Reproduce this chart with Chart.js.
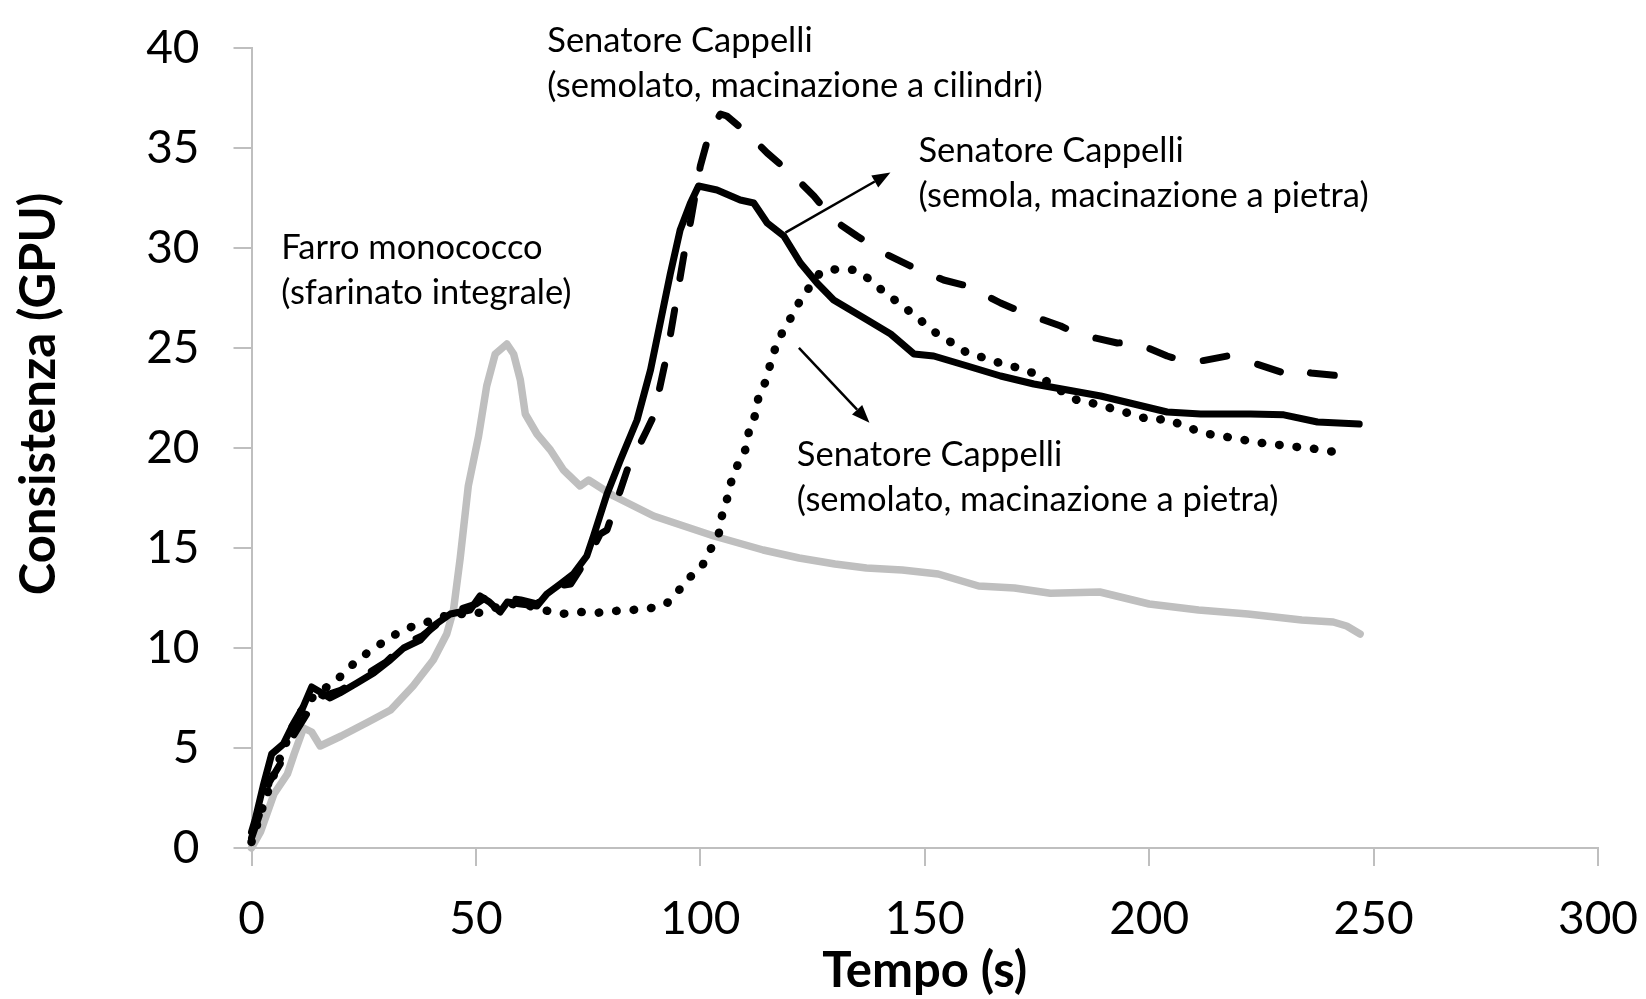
<!DOCTYPE html>
<html><head><meta charset="utf-8">
<script src="https://cdn.jsdelivr.net/npm/chart.js@4.4.1/dist/chart.umd.min.js"></script>
<style>html,body{margin:0;padding:0;background:#fff;}#wrap{position:relative;width:1646px;height:999px;}</style>
</head><body><div id="wrap"><canvas id="c" width="1646" height="999"></canvas></div>
<script>
// ---- data (time in s, consistency in GPU) ----
const xTicks = [0, 50, 100, 150, 200, 250, 300];
const yTicks = [0, 5, 10, 15, 20, 25, 30, 35, 40];

const farroT = [0,2,5,8,9.5,11.6,13.4,15.3,20,26,31,36,40.5,43.5,45,46.5,48.3,50.6,52.4,54.3,56.9,58.4,59.9,61,63.6,66.6,69.5,73.2,75.1,80.7,89.6,103,114,122,130,137,145,153,162,170,178,189,200,211,222,234,241,244,247];
const farroV = [0,0.8,2.7,3.7,4.7,6.0,5.8,5.1,5.6,6.3,6.9,8.1,9.4,10.7,11.9,14.5,18.1,20.6,23.1,24.7,25.2,24.7,23.4,21.7,20.7,19.9,18.9,18.1,18.4,17.6,16.6,15.6,14.9,14.5,14.2,14.0,13.9,13.7,13.1,13.0,12.74,12.8,12.2,11.9,11.7,11.4,11.3,11.1,10.7];

const semolaT = [0,0.8,2.6,4.5,7.1,9.3,11.5,13.4,15.3,17.5,19.7,23.5,27.2,30.9,33.9,37.6,40.5,44.3,48.7,50.9,53,55.4,57,60,63.6,65.8,68.8,71.7,74.7,76.2,79.2,82.2,85.9,88.9,91.1,93.3,95.5,97.8,99.6,103.7,108.9,111.9,114.9,118.6,122.3,126,129.7,137.2,142.4,147.6,152,159.5,166.9,174.3,181.8,189.2,196.6,204,211.5,222.6,230,237.5,246.8];
const semolaV = [0.8,1.4,3.1,4.7,5.2,6.2,7.05,8.05,7.8,7.5,7.75,8.25,8.75,9.4,10.0,10.4,11.1,11.7,11.9,12.6,12.3,11.8,12.3,12.2,12.1,12.7,13.2,13.7,14.6,15.6,17.7,19.4,21.4,23.9,26.3,28.7,30.9,32.25,33.1,32.9,32.4,32.25,31.25,30.6,29.25,28.25,27.4,26.4,25.7,24.7,24.6,24.1,23.6,23.2,22.9,22.6,22.2,21.8,21.7,21.7,21.66,21.3,21.2];

const cilindriT = [0,2,4,6.4,9,12.3,14,16,20,25,30,34,38,42,46,50,52,55,57,60,63.6,65,68,71.1,75.4,77.7,79.2,83.7,88.1,89.6,91.8,92.6,94.8,96.3,97.8,100,102.2,104.5,105.9,110.4,114.9,120.8,125.3,129.7,134.9,140.9,146.8,154.2,159.5,166.9,172.1,180.3,184,192.9,196.6,204,209.2,217.4,222.6,230,233,236,242.7,247.2];
const cilindriV = [0.5,1.8,3.3,4.2,5.5,6.7,7.8,7.6,7.9,8.6,9.3,10.2,10.6,11.3,11.9,12.2,12.5,12.6,12.5,12.4,12.2,12.5,13.1,13.2,14.7,15.7,15.9,18.9,20.9,21.6,23.9,24.7,27.6,29.6,31.3,34.1,35.9,36.7,36.6,35.75,34.75,33.6,32.6,31.4,30.6,29.75,29.1,28.4,28.1,27.25,26.75,26.1,25.7,25.25,25.3,24.6,24.25,24.6,24.3,23.75,24.0,23.75,23.6,23.6];

const semolatoT = [0,3,6,9,12,15,18.6,21.2,24.2,27.4,30.7,34.2,38,42,45.8,49.8,54,58,62,65.1,69,73,77,80.8,84.8,88.6,92.4,94.9,97.5,100.4,102.2,104.1,104.8,105.9,106.7,108.2,110,110.8,112.3,113,114.5,115.6,116.7,118.5,120.4,122.3,124.5,126.8,130.5,134.6,137.9,140.9,143.9,146.8,149.8,152.8,156.5,159.8,163.5,167.3,171,174.7,181.4,184.7,188.8,192.5,196.2,200.2,204,207.8,211.5,215.3,219.3,223.1,227.1,231,235.1,239.1,243.2];
const semolatoV = [0.3,2.4,4.3,6.0,7.2,7.8,8.3,8.9,9.5,10.0,10.5,10.96,11.2,11.55,11.7,11.7,12.0,12.2,12.1,11.9,11.7,11.8,11.76,11.85,11.9,11.97,12.2,12.8,13.5,14.1,14.9,15.7,16.6,17.4,18.2,19.1,19.9,20.8,21.7,22.6,23.3,24.2,25.0,25.9,26.6,27.4,28.1,28.8,28.95,28.9,28.4,27.8,27.3,26.8,26.25,25.7,25.2,24.7,24.5,24.2,24.0,23.7,22.7,22.3,22.2,21.9,21.7,21.4,21.45,21.1,20.8,20.6,20.5,20.3,20.2,20.1,20.0,19.9,19.7];

const xTitle = 'Tempo (s)';
const yTitle = 'Consistenza (GPU)';
const annotations = [
  {t: 65.9, v: 39.8, lines: ['Senatore Cappelli', '(semolato, macinazione a cilindri)']},
  {t: 148.6, v: 34.28, lines: ['Senatore Cappelli', '(semola, macinazione a pietra)']},
  {t: 6.64, v: 29.45, lines: ['Farro monococco', '(sfarinato integrale)']},
  {t: 121.5, v: 19.1, lines: ['Senatore Cappelli', '(semolato, macinazione a pietra)']}
];
const arrowList = [
  {from: [118.95, 30.77], to: [142.35, 33.77]},
  {from: [121.96, 25.01], to: [137.68, 21.26]}
];

const zip = (T, V) => T.map((t, i) => ({x: t, y: V[i]}));

const annotPlugin = {
  id: 'annot',
  afterDraw(chart) {
    const {ctx, chartArea: ca} = chart;
    const xs = chart.scales.x, ys = chart.scales.y;
    ctx.save();
    ctx.fillStyle = '#000';
    ctx.textAlign = 'left';
    ctx.textBaseline = 'alphabetic';
    ctx.font = '34.5px Lato';
    annotations.forEach(a => {
      const px = xs.getPixelForValue(a.t), py = ys.getPixelForValue(a.v);
      a.lines.forEach((s, i) => ctx.fillText(s, px, py + i * 45));
    });
    ctx.strokeStyle = '#000';
    ctx.lineWidth = 2.5;
    arrowList.forEach(ar => {
      const x1 = xs.getPixelForValue(ar.from[0]), y1 = ys.getPixelForValue(ar.from[1]);
      const x2 = xs.getPixelForValue(ar.to[0]), y2 = ys.getPixelForValue(ar.to[1]);
      const ang = Math.atan2(y2 - y1, x2 - x1);
      const hl = 18, hw = 7;
      const bx = x2 - hl * Math.cos(ang), by = y2 - hl * Math.sin(ang);
      ctx.beginPath(); ctx.moveTo(x1, y1); ctx.lineTo(bx, by); ctx.stroke();
      ctx.beginPath();
      ctx.moveTo(x2, y2);
      ctx.lineTo(bx + hw * Math.sin(ang), by - hw * Math.cos(ang));
      ctx.lineTo(bx - hw * Math.sin(ang), by + hw * Math.cos(ang));
      ctx.closePath(); ctx.fill();
    });
    ctx.font = 'bold 49px Lato';
    ctx.textAlign = 'center';
    ctx.fillText(xTitle, (ca.left + ca.right) / 2, ca.bottom + 138.6);
    ctx.save();
    ctx.translate(ca.left - 212.5, ca.top + 346);
    ctx.rotate(-Math.PI / 2);
    ctx.textBaseline = 'middle';
    ctx.fillText(yTitle, 0, 0);
    ctx.restore();
    ctx.restore();
  }
};

const axisCommon = {
  grid: {display: true, drawOnChartArea: false, drawTicks: true, tickLength: 18, color: '#bfbfbf', lineWidth: 2},
  border: {display: true, color: '#bfbfbf', width: 2}
};
function noPad(s) { s.paddingTop = 0; s.paddingBottom = 0; s.paddingLeft = 0; s.paddingRight = 0; }

function build() {
  new Chart(document.getElementById('c'), {
    type: 'line',
    data: {
      datasets: [
        {label: 'Senatore Cappelli (semola, macinazione a pietra)', data: zip(semolaT, semolaV),
         borderColor: '#000', borderWidth: 7, borderJoinStyle: 'round', borderCapStyle: 'round'},
        {label: 'Senatore Cappelli (semolato, macinazione a cilindri)', data: zip(cilindriT, cilindriV),
         borderColor: '#000', borderWidth: 7, borderDash: [24, 32], borderJoinStyle: 'round', borderCapStyle: 'round'},
        {label: 'Senatore Cappelli (semolato, macinazione a pietra)', data: zip(semolatoT, semolatoV),
         borderColor: '#000', borderWidth: 8.5, borderDash: [0.5, 17], borderJoinStyle: 'round', borderCapStyle: 'round'},
        {label: 'Farro monococco (sfarinato integrale)', data: zip(farroT, farroV),
         borderColor: '#bfbfbf', borderWidth: 7.5, borderJoinStyle: 'round', borderCapStyle: 'round'}
      ]
    },
    options: {
      responsive: false,
      animation: false,
      devicePixelRatio: 1,
      layout: {padding: {top: 48, right: 48, left: 0, bottom: 0}},
      elements: {point: {radius: 0, hoverRadius: 0}, line: {tension: 0}},
      datasets: {line: {clip: 12, fill: false}},
      plugins: {legend: {display: false}, tooltip: {enabled: false}},
      scales: {
        x: Object.assign({
          type: 'linear', min: 0, max: 300,
          ticks: {stepSize: 50, color: '#000', font: {family: 'Lato', size: 46}, padding: 26, maxRotation: 0,
                  callback: v => xTicks.includes(v) ? String(v) : ''},
          afterFit: s => { s.height = 151; noPad(s); }
        }, axisCommon),
        y: Object.assign({
          type: 'linear', min: 0, max: 40,
          ticks: {stepSize: 5, color: '#000', font: {family: 'Lato', size: 46}, padding: 34,
                  callback: v => yTicks.includes(v) ? String(v) : ''},
          afterFit: s => { s.width = 251.5; noPad(s); }
        }, axisCommon)
      }
    },
    plugins: [annotPlugin]
  });
}
if (document.fonts && document.fonts.load) {
  Promise.all([document.fonts.load('46px Lato'), document.fonts.load('bold 48px Lato')]).then(build, build);
} else { build(); }
</script></body></html>
